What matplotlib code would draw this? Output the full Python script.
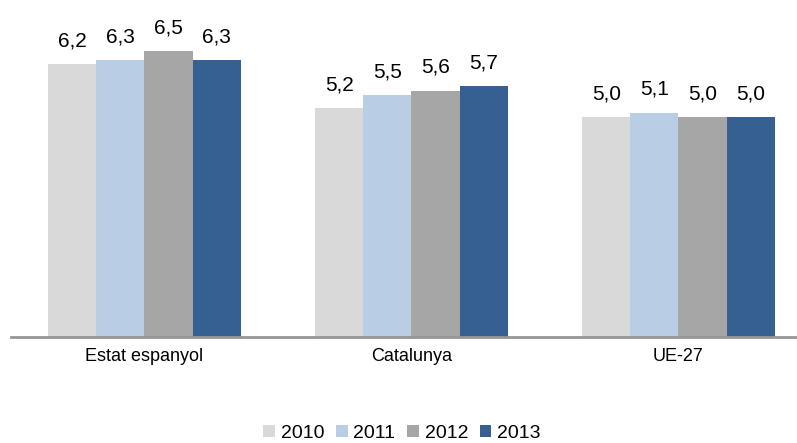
import numpy as np
import matplotlib
matplotlib.use("Agg")
import matplotlib.pyplot as plt

# dades
categories = ["Estat espanyol", "Catalunya", "UE-27"]
years = ["2010", "2011", "2012", "2013"]
v2010 = [6.2, 5.2, 5.0]
v2011 = [6.3, 5.5, 5.1]
v2012 = [6.5, 5.6, 5.0]
v2013 = [6.3, 5.7, 5.0]
colors = ["#D9D9D9", "#B9CDE5", "#A6A6A6", "#366092"]

plt.rcParams['font.family'] = ['Liberation Sans Narrow', 'Liberation Sans', 'DejaVu Sans']

fig = plt.figure(figsize=(7.97, 4.43), dpi=100)
ax = fig.add_axes([11/797, 1-337/443, 786/797, 310/443])

x = np.arange(len(categories))
w = 0.18
series = [v2010, v2011, v2012, v2013]
for i, vals in enumerate(series):
    pos = x + (i - 1.5) * w
    bars = ax.bar(pos, vals, w, color=colors[i], label=years[i])
    for b, v in zip(bars, vals):
        ax.annotate(("%.1f" % v).replace(".", ","), (b.get_x() + b.get_width()/2, v),
                    xytext=(0, 10), textcoords="offset points",
                    ha="center", va="bottom", fontsize=15)

ax.set_xlim(-0.5, 2.444)
ax.set_ylim(0, 7.05)
ax.set_yticks([])
ax.set_xticks(x)
ax.set_xticklabels(categories, fontsize=13)
ax.tick_params(axis="x", length=0, pad=8)
for s in ["top", "right", "left"]:
    ax.spines[s].set_visible(False)
ax.spines["bottom"].set_color("#969696")
ax.spines["bottom"].set_linewidth(2)

ax.legend(loc="lower center", bbox_to_anchor=((402-11)/786, -0.37),
          ncol=4, frameon=False, fontsize=14, handlelength=0.6, handleheight=0.6,
          handletextpad=0.3, columnspacing=0.6, borderpad=0)

fig.savefig("out.png", dpi=100)
